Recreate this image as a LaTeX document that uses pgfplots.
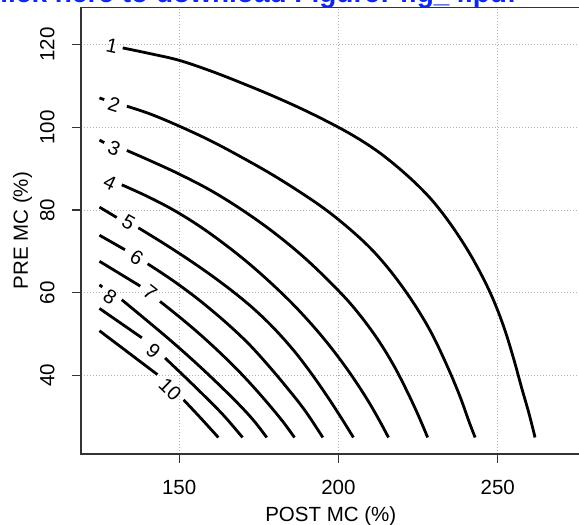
\documentclass[border=0pt]{standalone}
\usepackage{fontspec}
\setmainfont{Liberation Sans}
\usepackage{pgfplots}
\pgfplotsset{compat=1.18}
\definecolor{linkblue}{RGB}{15,40,235}
\newcommand{\tlab}{\fontsize{20.5}{24}\selectfont}
\newcommand{\clab}{\fontsize{20}{24}\selectfont}
\pgfplotsset{contourline/.style={black,solid,mark=none,smooth,tension=0.6,line width=2.8pt}}
\begin{document}
\begin{tikzpicture}
\node[anchor=base west, inner sep=0pt, font=\fontsize{28}{32}\selectfont\bfseries, text=linkblue] at (-20pt,522pt) {Click here to download Figure: fig\_4.pdf};
\begin{axis}[
  at={(81pt,71pt)}, anchor=south west,
  scale only axis, width=499.6pt, height=446.6pt,
  xmin=119.2, xmax=276, ymin=21, ymax=129,
  xtick={150,200,250}, ytick={40,60,80,100,120},
  /pgf/number format/assume math mode=true,
  tick align=outside, xtick pos=bottom, ytick pos=left,
  major tick length=9pt,
  grid=major,
  major grid style={dash pattern=on 1pt off 2pt, gray!60, line width=0.8pt},
  axis line style={black!80, line width=1.2pt},
  every tick/.style={black!80, line width=1.2pt},
  tick label style={font=\tlab},
  xticklabel style={anchor=base, yshift=-32pt},
  yticklabel style={xshift=-17.7pt, rotate=90, anchor=base},
  xlabel={POST MC (\%)}, ylabel={PRE MC (\%)},
  label style={font=\tlab},
  xlabel style={at={(axis description cs:0.5,-0.1516)}, anchor=base},
  ylabel style={at={(axis description cs:-0.1061,0.5)}, anchor=base},
  clip=false,
  cycle list={{contourline}},
]
% contour 1
\addplot coordinates {(132.3,119.2) (141,117.8) (150,116.2) (160,113.6) (170,110.6) (180,107.4) (190,103.9) (200,100.0) (207,96.9) (213,93.8) (219,90.1) (225,85.9) (230,81.8) (235,76.8) (240,71.0) (244.5,64.9) (248.5,58.5) (252,51.5) (255,44.0) (257.5,37.0) (259.8,30.8) (261.7,25.0)};
% contour 2
\addplot coordinates {(125,107.1) (126.5,106.7)};
\addplot coordinates {(133.6,105.1) (141,103.2) (150,100.3) (160,96.7) (170,92.6) (180,88.2) (190,83.3) (197,79.5) (204,75.1) (210,70.8) (215,66.5) (220,61.5) (225,55.8) (229.5,49.8) (234,42.5) (238,35.2) (241,28.8) (242.9,25)};
% contour 3
\addplot coordinates {(125,96.9) (126.5,96.3)};
\addplot coordinates {(133.6,94.4) (141,91.9) (150,88.7) (160,84.7) (170,79.9) (180,74.4) (190,68.0) (200,60.5) (206,55.3) (212,49.1) (217,42.9) (221,37.0) (224.8,30.8) (228,25)};
% contour 4
\addplot coordinates {(132,86.1) (140,83.3) (148,80.1) (156,76.3) (164,71.9) (172,67.0) (180,61.5) (187,56.2) (194,50.2) (200,44.4) (205,39.0) (209.5,33.6) (213,28.9) (215.7,25)};
% contour 5
\addplot coordinates {(125,80.7) (130.4,78.2)};
\addplot coordinates {(137.2,75.7) (145,72.0) (153,68.0) (161,63.7) (168,59.6) (174,55.7) (180,51.2) (186,46.0) (191,41.0) (196,35.5) (200.5,30.2) (204.7,25)};
% contour 6
\addplot coordinates {(125,73.9) (133,70.4)};
\addplot coordinates {(140.1,67) (147,63.5) (154,59.6) (160,55.9) (166,51.9) (172,47.5) (178,42.4) (184,36.9) (189.5,31.5) (195.1,25)};
% contour 7
\addplot coordinates {(125,67.6) (137.8,61.6)};
\addplot coordinates {(144,57.9) (150,54.2) (156,50.3) (162,46.1) (168,41.6) (173,37.5) (178,33.1) (182.5,28.9) (186.2,25)};
% contour 8
\addplot coordinates {(125,61.9) (125.9,61.4)};
\addplot coordinates {(132,58.3) (140,53.2) (148,48.0) (156,42.5) (163,37.4) (169,32.8) (173.5,29.0) (177.5,25)};
% contour 9
\addplot coordinates {(125,56.2) (138.3,49.1)};
\addplot coordinates {(145.6,44.2) (152,39.5) (158,35) (164,30.3) (169.9,25)};
% contour 10
\addplot coordinates {(125,50.8) (143.2,40.2)};
\addplot coordinates {(151.4,34.1) (157,29.5) (162.3,25)};
% labels
\node[rotate=-12, font=\clab] at (axis cs:128.9,119.6) {1};
\node[rotate=-18, font=\clab] at (axis cs:129.6,105.5) {2};
\node[rotate=-23, font=\clab] at (axis cs:129.6,95.0) {3};
\node[rotate=-26, font=\clab] at (axis cs:128.3,86.6) {4};
\node[rotate=-30, font=\clab] at (axis cs:134.1,77.0) {5};
\node[rotate=-32, font=\clab] at (axis cs:136.7,68.4) {6};
\node[rotate=-38, font=\clab] at (axis cs:140.9,60.0) {7};
\node[rotate=-34, font=\clab] at (axis cs:128.3,59.1) {8};
\node[rotate=-41, font=\clab] at (axis cs:141.9,45.8) {9};
\node[rotate=-44, font=\clab] at (axis cs:147.2,36.7) {10};
\end{axis}
\pgfresetboundingbox
\useasboundingbox (0pt,0pt) rectangle (579pt,525pt);
\end{tikzpicture}
\end{document}
